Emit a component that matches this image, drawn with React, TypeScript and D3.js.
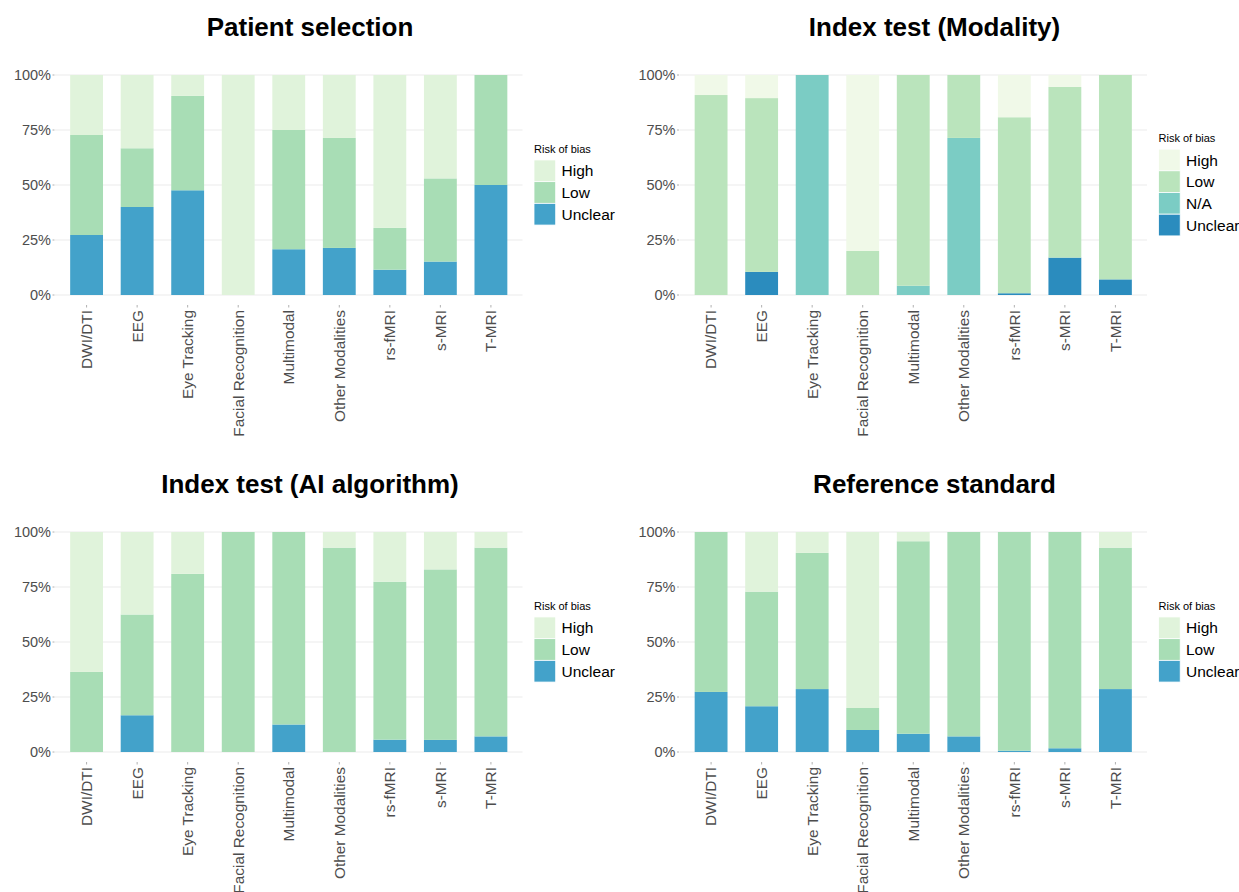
import React from "react";
import * as d3 from "d3";

const categories = ["DWI/DTI", "EEG", "Eye Tracking", "Facial Recognition", "Multimodal", "Other Modalities", "rs-fMRI", "s-MRI", "T-MRI"];
const yTicks = [0, 0.25, 0.5, 0.75, 1];

// Patient selection
const psUnclear = [27.3, 40, 47.6, 0, 20.8, 21.4, 11.5, 15.2, 50];
const psLow = [45.5, 26.7, 42.9, 0, 54.2, 50, 19, 37.8, 50];
const psHigh = [27.3, 33.3, 9.5, 100, 25, 28.6, 69.5, 47, 0];

// Index test (Modality)
const imUnclear = [0, 10.5, 0, 0, 0, 0, 0.8, 17, 7.1];
const imNA = [0, 0, 100, 0, 4.2, 71.4, 0, 0, 0];
const imLow = [90.9, 79, 0, 20, 95.8, 28.6, 80, 77.6, 92.9];
const imHigh = [9.1, 10.5, 0, 80, 0, 0, 19.2, 5.4, 0];

// Index test (AI algorithm)
const iaUnclear = [0, 16.7, 0, 0, 12.5, 0, 5.6, 5.5, 7.1];
const iaLow = [36.4, 45.8, 81, 100, 87.5, 92.9, 71.8, 77.5, 85.8];
const iaHigh = [63.6, 37.5, 19, 0, 0, 7.1, 22.6, 17, 7.1];

// Reference standard
const rsUnclear = [27.3, 20.8, 28.6, 10, 8.3, 7.1, 0.6, 1.7, 28.6];
const rsLow = [72.7, 52.1, 61.9, 10, 87.5, 92.9, 99.4, 98.3, 64.3];
const rsHigh = [0, 27.1, 9.5, 80, 4.2, 0, 0, 0, 7.1];

const FONT = "'Liberation Sans', Arial, Helvetica, sans-serif";

type Series = { key: string; values: number[]; color: string };

function Panel({ title, ox, oy, series }: { title: string; ox: number; oy: number; series: Series[] }) {
  const left = ox + 55, right = ox + 522.5, top = oy + 75, bottom = oy + 295;
  const x = d3.scaleBand<string>().domain(categories).range([left, right]).paddingInner(0.35).paddingOuter(0.3);
  const y = d3.scaleLinear().domain([0, 1]).range([bottom, top]);
  const rows = categories.map((c, i) => {
    const r: any = { cat: c };
    series.forEach((s) => (r[s.key] = s.values[i]));
    return r;
  });
  const stackKeys = series.map((s) => s.key).slice().reverse();
  const colorOf: Record<string, string> = {};
  series.forEach((s) => (colorOf[s.key] = s.color));
  const stacked = d3.stack<any>().keys(stackKeys).offset(d3.stackOffsetExpand)(rows);
  const fmt = d3.format(".0%");
  const keySize = 21.7;
  const legendH = 15 + series.length * keySize;
  const legTop = (top + bottom) / 2 - legendH / 2;
  const legX = ox + 534;
  return (
    <g>
      <text x={ox + 310} y={oy + 36} textAnchor="middle" fontSize={26} fontWeight="bold" fill="#000">{title}</text>
      {yTicks.map((t) => (
        <g key={t}>
          <line x1={left} x2={right} y1={y(t)} y2={y(t)} stroke="#ebebeb" strokeWidth={1} />
          <text x={left - 4} y={y(t)} dy="0.35em" textAnchor="end" fontSize={14.5} fill="#4d4d4d">{fmt(t)}</text>
          <line x1={left - 2.5} x2={left - 0.5} y1={y(t)} y2={y(t)} stroke="#b0b0b0" strokeWidth={1} />
        </g>
      ))}
      {stacked.map((layer) => (
        <g key={layer.key} fill={colorOf[layer.key]}>
          {layer.map((d, i) => {
            const h = y(d[0]) - y(d[1]);
            if (!(h > 0)) return null;
            return <rect key={i} x={x(categories[i])} width={x.bandwidth()} y={y(d[1])} height={h} />;
          })}
        </g>
      ))}
      {categories.map((c) => {
        const cx = (x(c) as number) + x.bandwidth() / 2;
        return (
          <g key={c}>
            <line x1={cx} x2={cx} y1={bottom + 10} y2={bottom + 12.5} stroke="#b0b0b0" strokeWidth={1} />
            <text transform={`translate(${cx},${bottom + 15}) rotate(-90)`} dy="0.35em" textAnchor="end" fontSize={15.4} fill="#4d4d4d">{c}</text>
          </g>
        );
      })}
      <text x={legX} y={legTop + 8} fontSize={11} fill="#000">Risk of bias</text>
      {series.map((s, i) => (
        <g key={s.key}>
          <rect x={legX} y={legTop + 15 + i * keySize} width={keySize} height={keySize} fill={s.color} stroke="#fff" strokeWidth={0.8} />
          <text x={legX + 27.5} y={legTop + 15 + i * keySize + keySize / 2} dy="0.36em" fontSize={15.5} fill="#000">{s.key}</text>
        </g>
      ))}
    </g>
  );
}

const c3 = { High: "#e0f3db", Low: "#a8ddb5", Unclear: "#43a2ca" };
const c4 = { High: "#f0f9e8", Low: "#bae4bc", NA: "#7bccc4", Unclear: "#2b8cbe" };

export default function App() {
  return (
    <svg width={1239} height={892} style={{ position: "absolute", left: 0, top: 0, fontFamily: FONT, background: "#fff" }}>
      <rect x={0} y={0} width={1239} height={892} fill="#fff" />
      <Panel title="Patient selection" ox={0} oy={0} series={[
        { key: "High", values: psHigh, color: c3.High },
        { key: "Low", values: psLow, color: c3.Low },
        { key: "Unclear", values: psUnclear, color: c3.Unclear },
      ]} />
      <Panel title="Index test (Modality)" ox={624.5} oy={0} series={[
        { key: "High", values: imHigh, color: c4.High },
        { key: "Low", values: imLow, color: c4.Low },
        { key: "N/A", values: imNA, color: c4.NA },
        { key: "Unclear", values: imUnclear, color: c4.Unclear },
      ]} />
      <Panel title="Index test (AI algorithm)" ox={0} oy={457} series={[
        { key: "High", values: iaHigh, color: c3.High },
        { key: "Low", values: iaLow, color: c3.Low },
        { key: "Unclear", values: iaUnclear, color: c3.Unclear },
      ]} />
      <Panel title="Reference standard" ox={624.5} oy={457} series={[
        { key: "High", values: rsHigh, color: c3.High },
        { key: "Low", values: rsLow, color: c3.Low },
        { key: "Unclear", values: rsUnclear, color: c3.Unclear },
      ]} />
    </svg>
  );
}
